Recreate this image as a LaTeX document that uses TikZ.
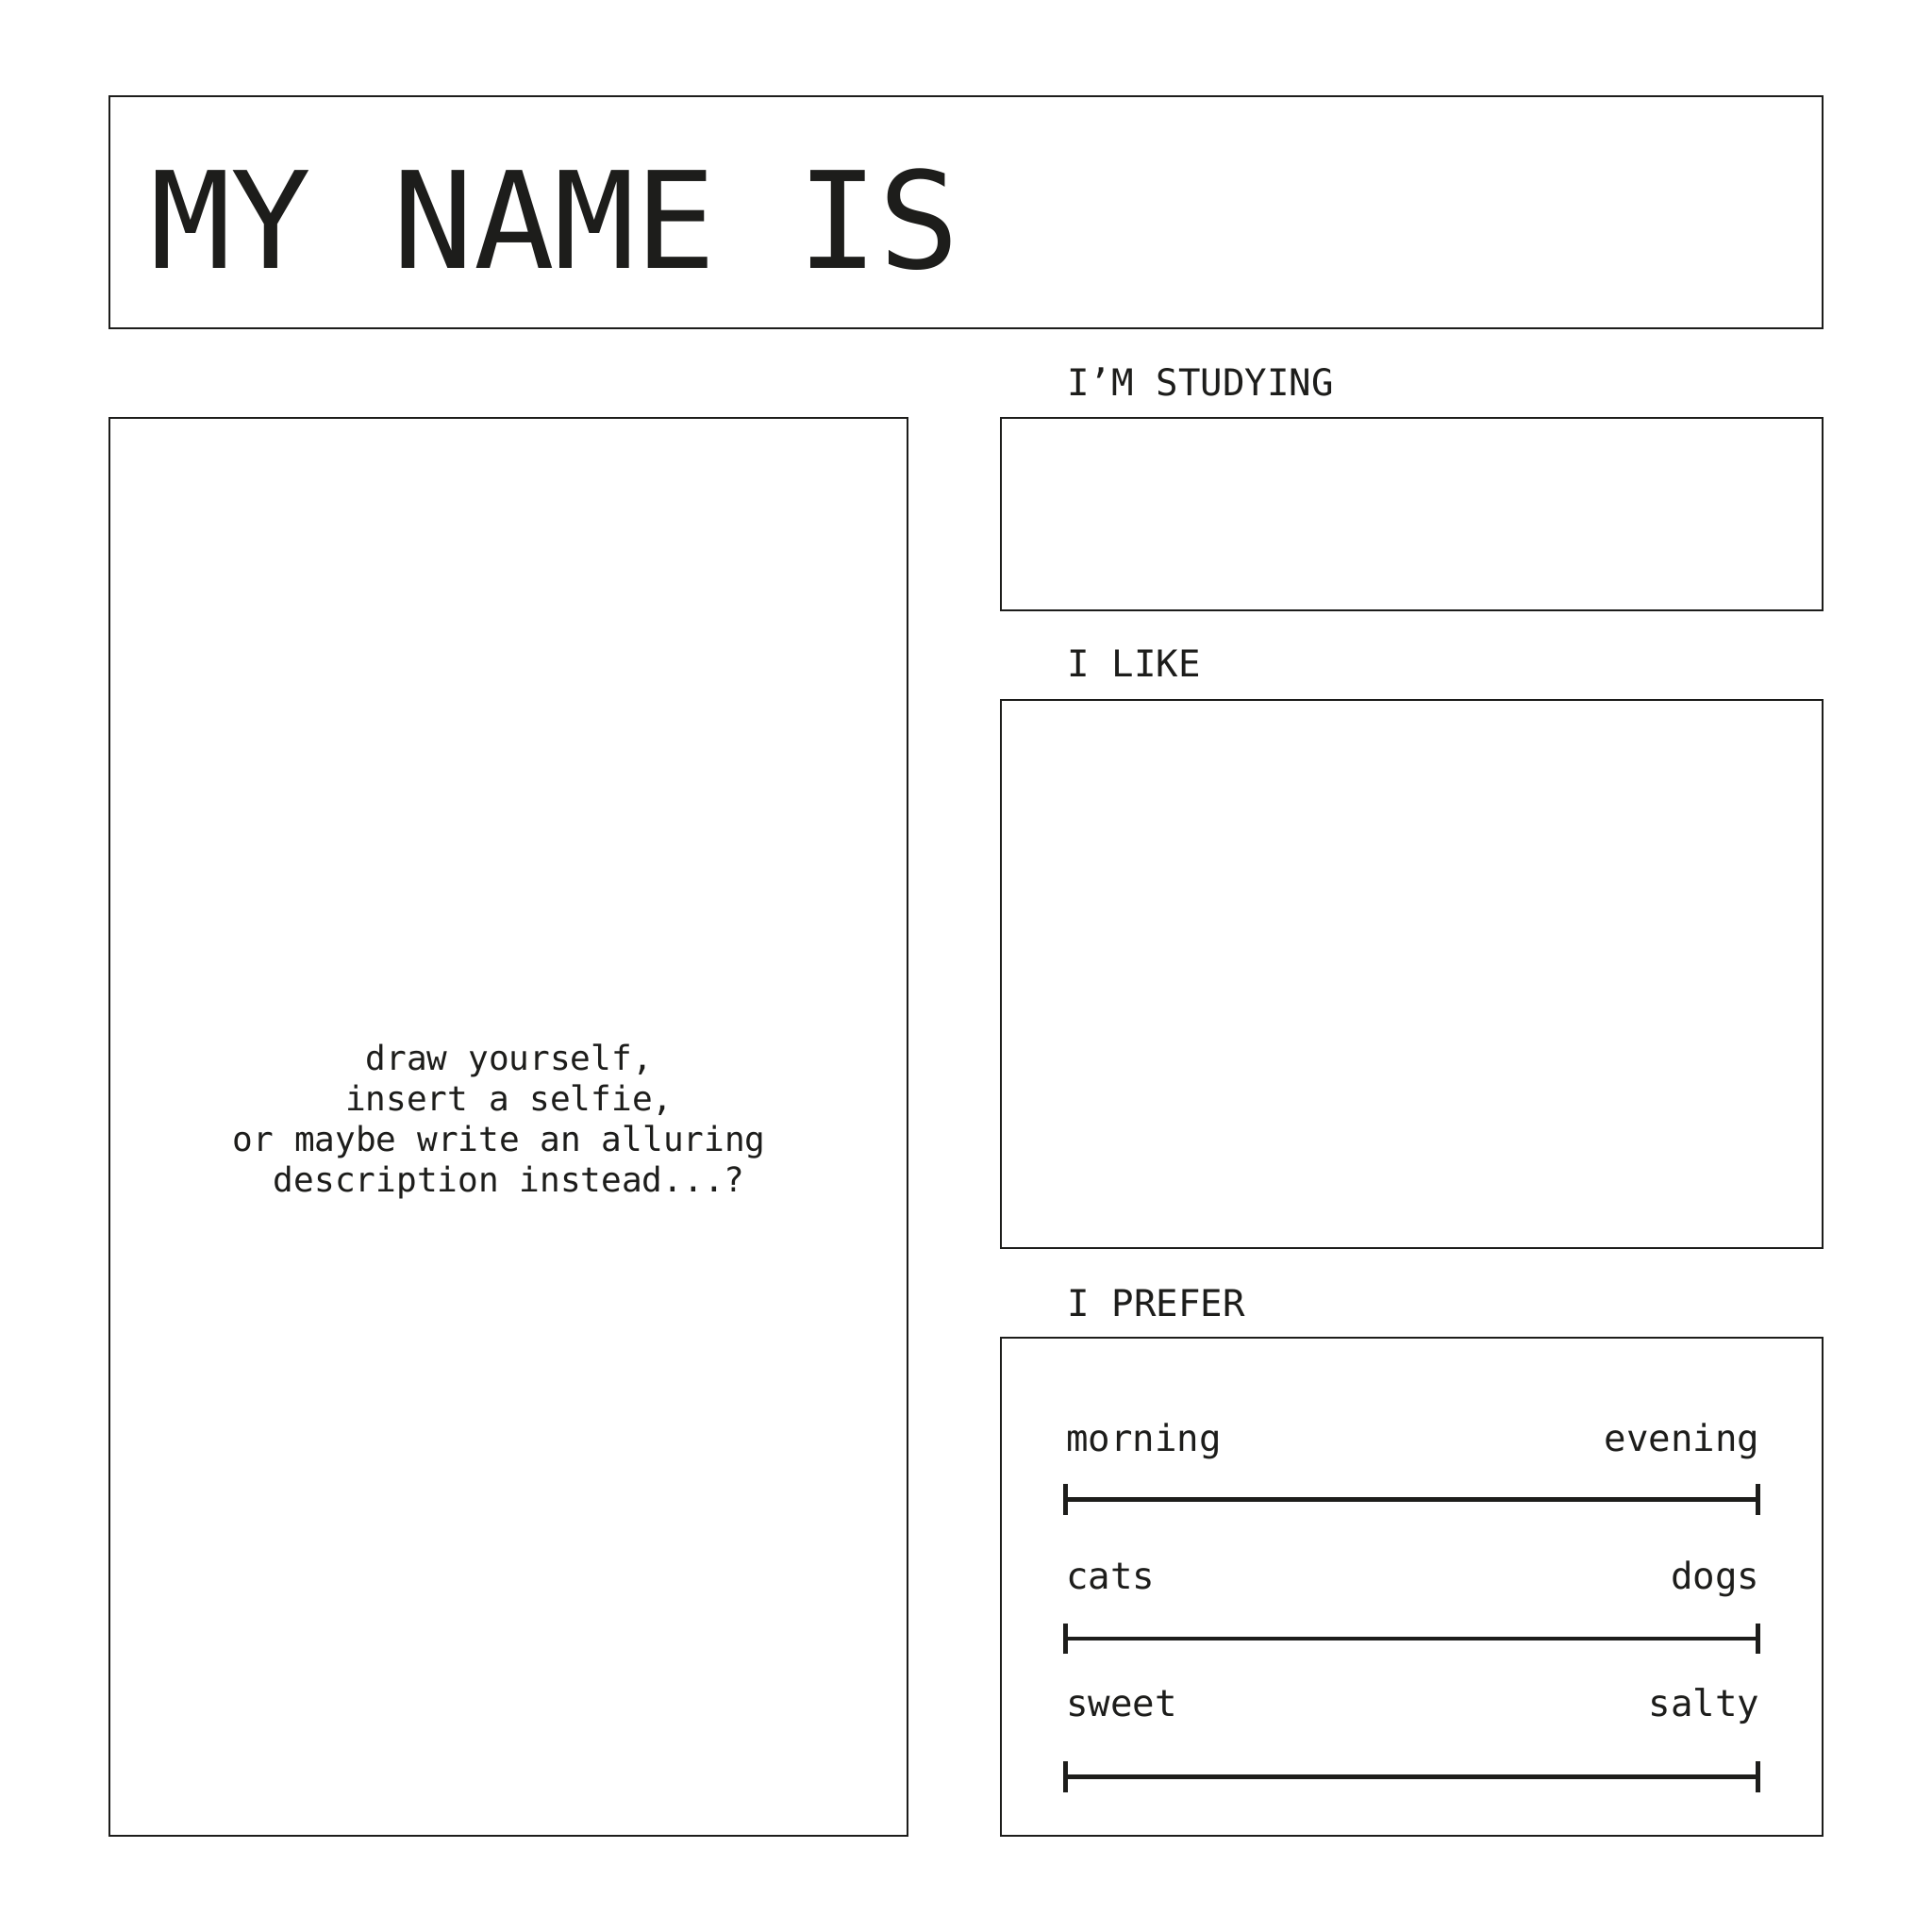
\documentclass[tikz,border=0pt]{standalone}
\usepackage{fontspec}
\newfontfamily\monof{DejaVu Sans Mono}
\usetikzlibrary{arrows.meta}
\definecolor{ink}{HTML}{1D1D1B}
\begin{document}
\begin{tikzpicture}[x=0.01cm,y=-0.01cm,
  panel/.style={draw=ink,line width=0.45pt},
  titletxt/.style={inner sep=0pt,anchor=base west,text=ink,font=\monof\fontsize{31}{36}\selectfont},
  headtxt/.style={inner sep=0pt,anchor=base west,text=ink,font=\monof\fontsize{8.5}{10}\selectfont},
  pref/.style={inner sep=0pt,text=ink,font=\monof\fontsize{8.5}{10}\selectfont},
  desc/.style={inner sep=0pt,anchor=base,text=ink,font=\monof\fontsize{7.85}{9.4}\selectfont},
  scale bar/.style={draw=ink,line width=1.05pt,{Bar[width=0.25cm,line width=1.05pt]}-{Bar[width=0.25cm,line width=1.05pt]}}]
\useasboundingbox (0,0) rectangle (1567,1567);
% panels
\draw[panel] (89,78) rectangle (1478,266);
\draw[panel] (89,339) rectangle (736,1489);
\draw[panel] (812,339) rectangle (1478,495);
\draw[panel] (812,568) rectangle (1478,1012);
\draw[panel] (812,1085) rectangle (1478,1489);
% title
\node[titletxt] (title) at (121,218) {MY NAME IS};
% headings
\node[headtxt] (study) at (865,321) {I’M STUDYING};
\node[headtxt] (like) at (865,549) {I LIKE};
\node[headtxt] (prefer) at (865,1068) {I PREFER};
% description
\node[desc] (d1) at (413,868) {draw yourself,};
\node[desc] (d2) at (413,901) {insert a selfie,};
\node[desc] (d3) at (405,934) {or maybe write an alluring};
\node[desc] (d4) at (413,967) {description instead...?};
% preferences
\node[pref,anchor=base west] (morning) at (864,1177) {morning};
\node[pref,anchor=base east] (evening) at (1428,1177) {evening};
\node[pref,anchor=base west] (cats) at (864,1289) {cats};
\node[pref,anchor=base east] (dogs) at (1428,1289) {dogs};
\node[pref,anchor=base west] (sweet) at (864,1392) {sweet};
\node[pref,anchor=base east] (salty) at (1428,1392) {salty};
\coordinate (b1l) at (862.5,1216); \coordinate (b1r) at (1427.5,1216);
\coordinate (b2l) at (862.5,1329); \coordinate (b2r) at (1427.5,1329);
\coordinate (b3l) at (862.5,1441); \coordinate (b3r) at (1427.5,1441);
\draw[scale bar] (b1l) -- (b1r);
\draw[scale bar] (b2l) -- (b2r);
\draw[scale bar] (b3l) -- (b3r);
\end{tikzpicture}
\end{document}
